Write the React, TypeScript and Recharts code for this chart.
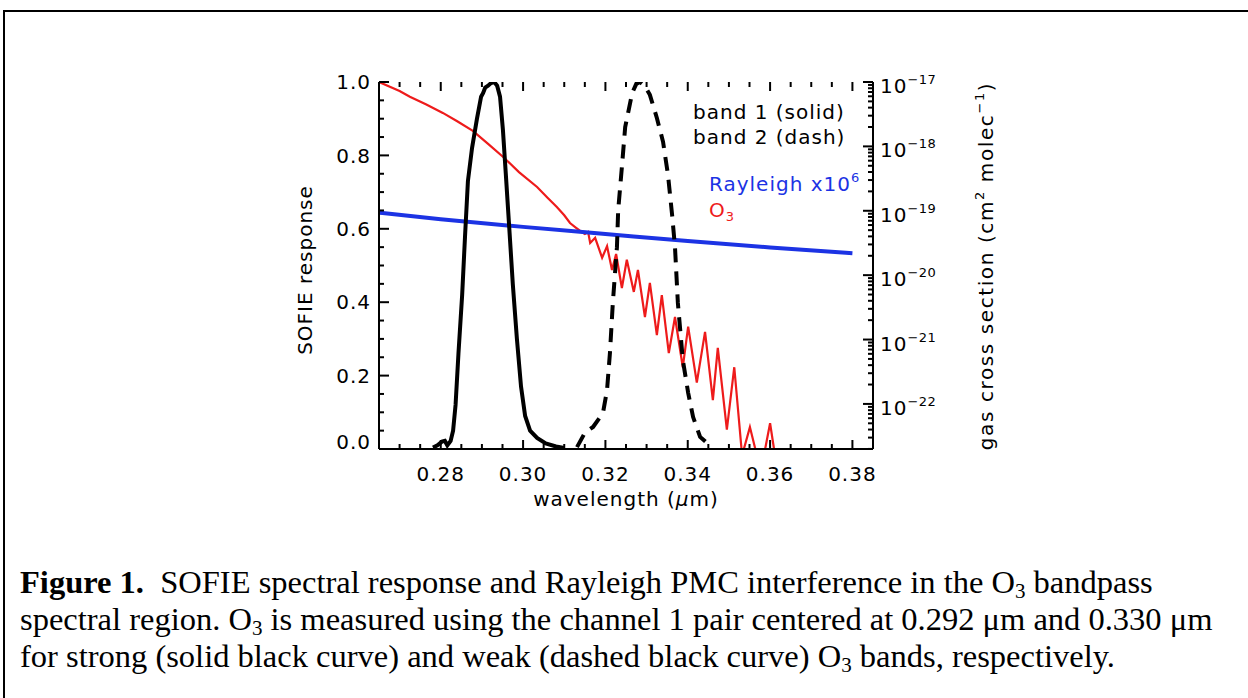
import { ComposedChart, Line, XAxis, YAxis } from 'recharts'

// axis tick labels
const wavelengthTicks = [0.28, 0.3, 0.32, 0.34, 0.36, 0.38]
const responseTicks = [0, 0.2, 0.4, 0.6, 0.8, 1]
const sigmaDecades = [-22, -21, -20, -19, -18, -17]

// band 1 (solid) spectral response
const band1Wl = [
  0.2781, 0.2792, 0.2803, 0.281, 0.2816, 0.2824, 0.283, 0.2836, 0.2843, 0.2852, 0.2859, 0.2866,
  0.2876, 0.2888, 0.2898, 0.2903, 0.2908, 0.2915, 0.2922, 0.293, 0.2937, 0.2944, 0.2951, 0.2958,
  0.2966, 0.2975, 0.2985, 0.2995, 0.3005, 0.3017, 0.3034, 0.3055, 0.308, 0.31,
]
const band1Resp = [
  0.004, 0.01, 0.02, 0.022, 0.01, 0.022, 0.05, 0.12, 0.26, 0.42, 0.58, 0.73,
  0.82, 0.9, 0.96, 0.97, 0.985, 0.99, 0.997, 1.0, 0.99, 0.96, 0.87, 0.75,
  0.61, 0.45, 0.3, 0.17, 0.09, 0.05, 0.03, 0.015, 0.007, 0.003,
]

// band 2 (dash) spectral response
const band2Wl = [
  0.3131, 0.315, 0.317, 0.3194, 0.3204, 0.3211, 0.3218, 0.3228, 0.3231, 0.324, 0.3248, 0.3265,
  0.3275, 0.3284, 0.3295, 0.3308, 0.3325, 0.334, 0.3352, 0.3362, 0.3369, 0.3376, 0.3388, 0.3401,
  0.3413, 0.343, 0.3447, 0.3459,
]
const band2Resp = [
  0.005, 0.044, 0.06, 0.098, 0.161, 0.262, 0.398, 0.55, 0.651, 0.768, 0.877, 0.97,
  0.995, 1.0, 0.99, 0.965, 0.902, 0.837, 0.747, 0.638, 0.55, 0.398, 0.243, 0.153,
  0.087, 0.033, 0.016, 0.005,
]

// O3 cross section, log10(cm^2 molec^-1)
const o3Wl = [
  0.265, 0.27, 0.2725, 0.2765, 0.2805, 0.284, 0.2878, 0.2915, 0.2951, 0.299, 0.3034, 0.306,
  0.3082, 0.31, 0.3114, 0.3128, 0.3138, 0.315, 0.3158, 0.3163, 0.3175, 0.3192, 0.3204, 0.3216,
  0.3226, 0.324, 0.3252, 0.3269, 0.3279, 0.3296, 0.3308, 0.3325, 0.3337, 0.3354, 0.3369, 0.3388,
  0.3401, 0.3422, 0.3442, 0.3461, 0.3473, 0.3495, 0.3513, 0.3532, 0.3551, 0.3568, 0.3585, 0.36,
  0.3612,
]
const o3LogSigma = [
  -17.0, -17.14, -17.23, -17.35, -17.48, -17.61, -17.76, -17.96, -18.16, -18.4, -18.63, -18.8,
  -18.94, -19.07, -19.19, -19.26, -19.31, -19.36, -19.33, -19.5, -19.42, -19.73, -19.55, -19.92,
  -19.67, -20.2, -19.76, -20.26, -19.92, -20.65, -20.12, -20.93, -20.31, -21.21, -20.65, -21.43,
  -20.8, -21.67, -20.88, -21.94, -21.13, -22.4, -21.43, -22.8, -22.36, -22.8, -22.8, -22.3,
  -22.8,
]

// Rayleigh x10^6, log10(cm^2 molec^-1)
const rayWl = [0.265, 0.28, 0.3, 0.32, 0.34, 0.36, 0.38]
const rayLogSigma = [-19.03, -19.13, -19.25, -19.36, -19.47, -19.57, -19.66]

const zip = (xs: number[], ys: number[]) => xs.map((x, i) => ({ x, y: ys[i] }))

const PLOT_TOP = 82
const FONT = '"DejaVu Sans", sans-serif'
const TXT = { fontFamily: FONT, fontSize: 20, letterSpacing: 1 }

const r3 = (v: number) => Math.round(v * 1000) / 1000
const xAllTicks = Array.from({ length: 25 }, (_, i) => r3(0.265 + i * 0.005))
const yAllTicks = Array.from({ length: 21 }, (_, i) => r3(i * 0.05))
const logAllTicks: number[] = []
for (let d = -23; d <= -17; d++) {
  for (let k = 1; k <= 9; k++) {
    const v = d + Math.log10(k)
    if (v >= -22.7 && v <= -16.999) logAllTicks.push(v)
  }
}

const isIn = (list: number[], v: number) => list.some(t => Math.abs(t - v) < 1e-6)

function XTick(props: any) {
  const { x, y, payload } = props
  const v = payload.value
  const major = isIn(wavelengthTicks, v)
  const len = major ? 9 : 5
  return (
    <g>
      <line x1={x} y1={y} x2={x} y2={y - len} stroke="#000" strokeWidth={2} />
      <line x1={x} y1={PLOT_TOP} x2={x} y2={PLOT_TOP + len} stroke="#000" strokeWidth={2} />
      {major && (
        <text x={x} y={y + 32} textAnchor="middle" fill="#000" style={TXT}>
          {v.toFixed(2)}
        </text>
      )}
    </g>
  )
}

function LeftTick(props: any) {
  const { x, y, payload } = props
  const v = payload.value
  const major = isIn(responseTicks, v)
  const len = major ? 10 : 5
  return (
    <g>
      <line x1={x} y1={y} x2={x + len} y2={y} stroke="#000" strokeWidth={2} />
      {major && (
        <text x={x - 8} y={v === 0 ? y - 7 : y} dy="0.36em" textAnchor="end" fill="#000" style={TXT}>
          {v.toFixed(1)}
        </text>
      )}
    </g>
  )
}

function RightTick(props: any) {
  const { x, y, payload } = props
  const v = payload.value
  const major = isIn(sigmaDecades, v)
  const len = major ? 10 : 5
  return (
    <g>
      <line x1={x} y1={y} x2={x - len} y2={y} stroke="#000" strokeWidth={2} />
      {major && (
        <text x={x + 7} y={y + 11} fill="#000" style={TXT}>
          10
          <tspan dy={-9} style={{ fontSize: 13, letterSpacing: 0.5 }}>
            {'\u2212' + Math.abs(v)}
          </tspan>
        </text>
      )}
    </g>
  )
}

const Sub = ({ children }: { children: string }) => (
  <span style={{ fontSize: 21, position: 'relative', top: 5, lineHeight: 0 }}>{children}</span>
)

export default function App() {
  const axisLine = { stroke: '#000', strokeWidth: 2 }
  return (
    <div style={{ position: 'fixed', left: 0, top: 0, width: 1248, height: 698, overflow: 'hidden', background: '#fff' }}>
      <div style={{ position: 'absolute', left: 3, top: 10, width: 1300, height: 760, borderLeft: '2px solid #000', borderTop: '2px solid #000' }} />

      <div style={{ position: 'absolute', left: 0, top: 0 }}>
        <ComposedChart width={1248} height={540} margin={{ top: PLOT_TOP, right: 0, bottom: 0, left: 0 }}>
          <XAxis xAxisId="b" type="number" dataKey="x" domain={[0.265, 0.385]} allowDataOverflow
            ticks={xAllTicks} interval={0} height={91} tickSize={0} tickMargin={0}
            tickLine={false} axisLine={axisLine} tick={<XTick />} />
          <XAxis xAxisId="t" orientation="top" type="number" dataKey="x" domain={[0.265, 0.385]} allowDataOverflow
            height={0} tick={false} tickLine={false} axisLine={axisLine} />
          <YAxis yAxisId="l" type="number" domain={[0, 1]} allowDataOverflow width={379}
            ticks={yAllTicks} interval={0} tickSize={0} tickMargin={0}
            tickLine={false} axisLine={axisLine} tick={<LeftTick />} />
          <YAxis yAxisId="r" orientation="right" type="number" domain={[-22.7, -17]} allowDataOverflow width={375}
            ticks={logAllTicks} interval={0} tickSize={0} tickMargin={0}
            tickLine={false} axisLine={axisLine} tick={<RightTick />} />

          <Line data={zip(o3Wl, o3LogSigma)} dataKey="y" xAxisId="b" yAxisId="r" type="linear"
            stroke="#ee1b1b" strokeWidth={2.2} dot={false} isAnimationActive={false} />
          <Line data={zip(rayWl, rayLogSigma)} dataKey="y" xAxisId="b" yAxisId="r" type="monotone"
            stroke="#1c33e4" strokeWidth={4} dot={false} isAnimationActive={false} />
          <Line data={zip(band1Wl, band1Resp)} dataKey="y" xAxisId="b" yAxisId="l" type="linear"
            stroke="#000" strokeWidth={4} dot={false} isAnimationActive={false} />
          <Line data={zip(band2Wl, band2Resp)} dataKey="y" xAxisId="b" yAxisId="l" type="linear"
            stroke="#000" strokeWidth={4} strokeDasharray="14 9" dot={false} isAnimationActive={false} />
        </ComposedChart>
      </div>

      <svg width={1248} height={540} style={{ position: 'absolute', left: 0, top: 0, pointerEvents: 'none' }}>
        <text x={693} y={119} fill="#000" style={TXT}>band 1 (solid)</text>
        <text x={693} y={144} fill="#000" style={TXT}>band 2 (dash)</text>
        <text x={709} y={191} fill="#1c33e4" style={TXT}>
          Rayleigh x10<tspan dy={-9} style={{ fontSize: 13 }}>6</tspan>
        </text>
        <text x={709} y={217} fill="#ee1b1b" style={TXT}>
          O<tspan dy={4} style={{ fontSize: 13 }}>3</tspan>
        </text>
        <text x={626} y={506} textAnchor="middle" fill="#000" style={TXT}>
          wavelength (<tspan fontStyle="italic">μ</tspan>m)
        </text>
        <text transform="translate(312,270) rotate(-90)" textAnchor="middle" fill="#000" style={TXT}>
          SOFIE response
        </text>
        <text transform="translate(993,266) rotate(-90)" textAnchor="middle" fill="#000" style={{ ...TXT, letterSpacing: 1.6 }}>
          gas cross section (cm<tspan dy={-9} style={{ fontSize: 13 }}>2</tspan>
          <tspan dy={9}> molec</tspan>
          <tspan dy={-9} style={{ fontSize: 13 }}>{'\u2212'}1</tspan>
          <tspan dy={9}>)</tspan>
        </text>
      </svg>

      <div style={{ position: 'absolute', left: 20, top: 564, fontFamily: '"Liberation Serif", "Times New Roman", serif', fontSize: 32.5, lineHeight: '37px', color: '#000', whiteSpace: 'nowrap' }}>
        <div><b>Figure 1.</b>{'\u00a0 '}SOFIE spectral response and Rayleigh PMC interference in the O<Sub>3</Sub> bandpass</div>
        <div>spectral region. O<Sub>3</Sub> is measured using the channel 1 pair centered at 0.292 μm and 0.330 μm</div>
        <div>for strong (solid black curve) and weak (dashed black curve) O<Sub>3</Sub> bands, respectively.</div>
      </div>
    </div>
  )
}
